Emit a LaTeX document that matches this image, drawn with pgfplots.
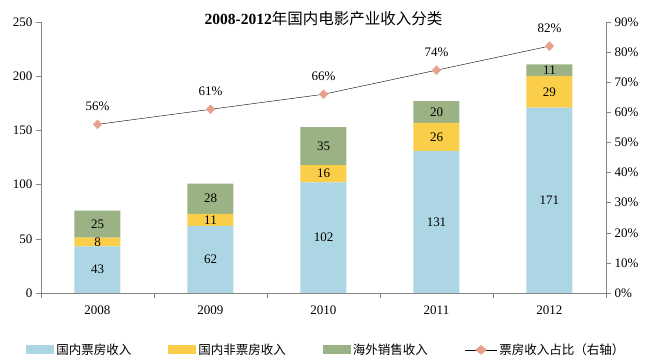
\documentclass[border=0pt]{standalone}
\usepackage{pgfplots}
\pgfplotsset{compat=1.18}
\usepackage{fontspec}
\setmainfont{Liberation Serif}
\newfontfamily\cjk{Noto Sans CJK SC}
\definecolor{cblue}{RGB}{173,214,228}
\definecolor{cyellow}{RGB}{250,206,72}
\definecolor{cgreen}{RGB}{155,178,132}
\definecolor{cmark}{RGB}{232,160,140}
\definecolor{axgray}{RGB}{134,134,134}
\pgfplotsset{/pgf/number format/assume math mode=true,
  mylinelegend/.style={legend image code/.code={\draw[black] (0pt,0pt) -- (32pt,0pt);
    \fill[cmark] (16pt,4.5pt) -- (21.5pt,0pt) -- (16pt,-4.5pt) -- (10.5pt,0pt) -- cycle;}}}
\begin{document}
\begin{tikzpicture}[x=1pt,y=1pt]
\path[use as bounding box] (-41,-71) rectangle (605,293);
\begin{axis}[
  at={(0,0)}, anchor=south west,
  scale only axis, width=565pt, height=271pt,
  xmin=-0.5, xmax=4.5, ymin=0, ymax=250,
  ybar stacked, bar width=46pt,
  axis x line*=bottom, axis y line*=left,
  axis line style={axgray},
  every tick/.style={axgray},
  tick align=outside,
  major tick length=5pt, minor tick length=5pt,
  xtick={0,...,4}, xticklabels={2008,2009,2010,2011,2012},
  major x tick style={draw=none},
  minor xtick={-0.5,0.5,...,4.5},
  ytick={0,50,...,250},
  tick label style={font=\fontsize{13}{13}\selectfont},
  xticklabel style={yshift=-4pt},
  title={\fontsize{15.5}{15.5}\selectfont\bfseries 2008-2012{\cjk\mdseries 年国内电影产业收入分类}},
  title style={at={(0.5,0.99)}, anchor=center},
  legend style={at={(0.505,-0.21)}, anchor=center, draw=none, legend columns=4,
    font=\cjk\fontsize{12.5}{12.5}\selectfont,
    /tikz/every even column/.append style={column sep=35pt}},
  legend image code/.code={\fill[#1] (0pt,-4.5pt) rectangle (28pt,4.5pt);},
]
\addplot[fill=cblue, draw=none] coordinates {(0,43)(1,62)(2,102)(3,131)(4,171)};
\addlegendentry{国内票房收入}
\addplot[fill=cyellow, draw=none] coordinates {(0,8)(1,11)(2,16)(3,26)(4,29)};
\addlegendentry{国内非票房收入}
\addplot[fill=cgreen, draw=none] coordinates {(0,25)(1,28)(2,35)(3,20)(4,11)};
\addlegendentry{海外销售收入}
\addlegendimage{mylinelegend}
\addlegendentry{票房收入占比（右轴）}
\end{axis}
\begin{axis}[
  at={(0,0)}, anchor=south west,
  scale only axis, width=565pt, height=271pt,
  xmin=-0.5, xmax=4.5, ymin=0, ymax=250,
  hide axis,
]
\addplot[draw=none, mark=none, nodes near coords, point meta=explicit symbolic,
  nodes near coords style={font=\fontsize{13}{13}\selectfont, black, anchor=center}]
  coordinates {
  (0,21.5)[43] (0,47)[8] (0,63.5)[25]
  (1,31)[62] (1,67.5)[11] (1,87)[28]
  (2,51)[102] (2,110)[16] (2,135.5)[35]
  (3,65.5)[131] (3,144)[26] (3,167)[20]
  (4,85.5)[171] (4,185.5)[29] (4,205.5)[11]};
\end{axis}
\begin{axis}[
  at={(0,0)}, anchor=south west,
  scale only axis, width=565pt, height=271pt,
  xmin=-0.5, xmax=4.5, ymin=0, ymax=90,
  axis x line=none, axis y line*=right,
  axis line style={axgray},
  every tick/.style={axgray},
  tick align=outside, major tick length=5pt,
  ytick={0,10,...,90},
  yticklabel={\pgfmathprintnumber{\tick}\%},
  tick label style={font=\fontsize{13}{13}\selectfont},
]
\addplot[black, mark=diamond*, mark size=4.5pt, mark options={fill=cmark, draw=cmark, xscale=1.25},
  nodes near coords={\pgfmathprintnumber{\pgfplotspointmeta}\%},
  nodes near coords style={font=\fontsize{13}{13}\selectfont, black, anchor=center, yshift=18pt}]
  coordinates {(0,56)(1,61)(2,66)(3,74)(4,82)};
\end{axis}
\end{tikzpicture}
\end{document}
